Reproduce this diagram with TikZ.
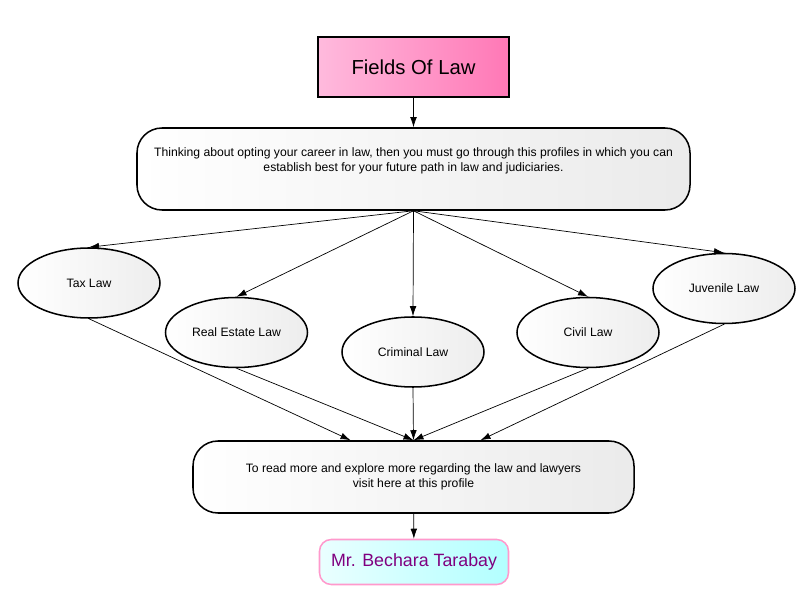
\documentclass[tikz,border=0pt]{standalone}
\usepackage{fontspec}
\setmainfont{Liberation Sans}
\usetikzlibrary{calc,positioning,arrows.meta,shapes.geometric}

\definecolor{pinkleft}{HTML}{FFBADD}
\definecolor{pinkright}{HTML}{FF78B6}
\definecolor{cyanleft}{HTML}{EAFFFF}
\definecolor{cyanright}{HTML}{B2FFFF}
\definecolor{nameborder}{HTML}{FF99CC}
\definecolor{namepurple}{HTML}{800080}

\begin{document}
\begin{tikzpicture}[x=0.03cm,y=-0.03cm,
  lawfield/.style={draw,ellipse,line width=1.3pt,minimum width=4.26cm,minimum height=2.1cm,
    left color=white,right color=gray!14,font=\fontsize{10.4}{12}\selectfont},
  textbox/.style={draw,rectangle,rounded corners=0.75cm,line width=1.3pt,align=center,
    left color=white,right color=gray!16,font=\fontsize{10.4}{12.75}\selectfont},
  link/.style={-{Latex[length=0.3cm,width=0.2cm]},line width=0.6pt}]

  \useasboundingbox (0,0) rectangle (800,600);

  \node [draw,rectangle,line width=1.3pt,minimum width=5.73cm,minimum height=1.8cm,
    left color=pinkleft,right color=pinkright,font=\fontsize{17.3}{20}\selectfont]
    at (413.5,67) (fields) {Fields Of Law};

  \node [textbox,minimum width=16.59cm,minimum height=2.46cm] at (413.5,169) (thinking)
    {Thinking about opting your career in law, then you must go through this profiles in which you can\\
     establish best for your future path in law and judiciaries.\\ \strut};

  \foreach \n/\x/\y/\t in {tax/89/283/Tax Law, estate/236.5/332.5/Real Estate Law,
      criminal/413/352/Criminal Law, civil/588/332.5/Civil Law, juvenile/724/288.5/Juvenile Law}{
    \node [lawfield] at (\x,\y) (\n) {\t};
  }

  \node [textbox,minimum width=13.23cm,minimum height=2.16cm] at (413.5,477) (readmore)
    {To read more and explore more regarding the law and lawyers\\ visit here at this profile};

  \node [draw=nameborder,rectangle,rounded corners=0.35cm,line width=1.3pt,
    minimum width=5.67cm,minimum height=1.35cm,left color=cyanleft,right color=cyanright,
    text=namepurple,font=\fontsize{15.2}{18}\selectfont] at (414,562) (bechara) {Mr. Bechara Tarabay};

  % connectors
  \draw [link] (fields) -- (thinking);
  \foreach \n in {tax,estate,criminal,civil,juvenile}{
    \draw [link] (thinking.south) -- (\n.north);
  }
  \draw [link] (tax.south) -- ($(readmore.north)+(-63,0)$);
  \foreach \n in {estate,criminal,civil}{
    \draw [link] (\n.south) -- (readmore.north);
  }
  \draw [link] (juvenile.south) -- ($(readmore.north)+(67,0)$);
  \draw [link] (readmore) -- (bechara);
\end{tikzpicture}
\end{document}
